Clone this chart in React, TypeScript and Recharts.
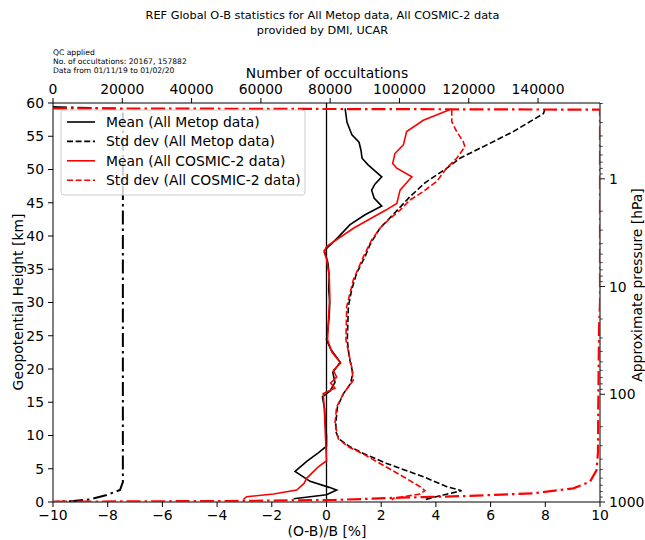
import { ScatterChart, Scatter, XAxis, YAxis, ReferenceLine } from 'recharts';

const FONT = '"DejaVu Sans", Verdana, sans-serif';

// Profiles, listed from the top of the atmosphere downwards.
// Heights are geopotential km, values are (O-B)/B in %.
const metopMeanKm = [59.2, 57.1, 55.2, 54.1, 52.9, 51.7, 50.7, 49.8, 48.9, 47.8, 46.9, 45.7, 44.5, 43.2, 41.7, 39.8, 38.2, 37.8, 36, 34, 32, 30, 28, 26, 24.4, 23, 21, 19.5, 18, 16.7, 15.8, 14, 12, 10, 8.4, 7.4, 6.2, 4.6, 3.1, 2.2, 1.8, 1.1, 0.8, 0.5];
const metopMeanPct = [0.68, 0.75, 0.93, 1.19, 1.26, 1.3, 1.52, 1.77, 2.02, 1.77, 1.65, 1.74, 2.02, 1.41, 0.86, 0.42, 0.02, -0.08, 0.05, 0.1, 0.08, 0.12, 0.1, 0.05, 0, 0.15, 0.5, 0.23, 0.31, 0.13, -0.15, -0.07, -0.05, 0, 0, -0.3, -0.7, -1.15, -0.6, 0.1, 0.37, 0, -0.6, -1.2];

const metopStdKm = [59.1, 58.4, 55.7, 53.7, 51.7, 50.2, 48.0, 45.9, 43.5, 41.2, 38.8, 36.9, 34.4, 31.9, 29.4, 24.4, 21.8, 19.4, 17.8, 16.3, 14.3, 11.8, 10.5, 9.5, 8.3, 7.3, 5.8, 3.8, 2.3, 1.7, 1.05, 0.3];
const metopStdPct = [7.99, 7.93, 6.83, 5.86, 4.88, 4.4, 3.6, 3.05, 2.5, 1.96, 1.6, 1.41, 1.1, 0.92, 0.8, 0.76, 0.83, 0.96, 0.88, 0.62, 0.4, 0.34, 0.35, 0.45, 0.86, 1.35, 2.2, 3.54, 4.4, 4.94, 4.27, 3.54];

const cosmicMeanKm = [59, 57.4, 55.7, 53.7, 52.4, 50.9, 50.2, 48.9, 46.9, 44.9, 43.9, 41.2, 38.4, 37.6, 36.6, 34, 31, 28, 24.4, 22.5, 20.9, 19.8, 18.8, 17.9, 17.1, 16.3, 14, 11, 8, 6.2, 5.3, 4.8, 3.6, 2.8, 1.8, 1.2, 0.8, 0.4];
const cosmicMeanPct = [4.5, 3.54, 2.93, 2.81, 2.5, 2.42, 2.57, 3.12, 2.69, 2.57, 2.17, 1.0, 0, -0.09, 0, 0.1, 0.12, 0.08, 0.04, 0.2, 0.52, 0.25, 0.37, 0.15, 0.31, -0.12, -0.08, -0.05, -0.02, 0, -0.3, -0.42, -0.72, -0.82, -1.09, -1.94, -2.92, -3.04];

const cosmicStdKm = [59, 57.2, 55.7, 54.2, 53.4, 51.7, 50.2, 48.2, 46.7, 45.4, 43.9, 42.4, 41.2, 39.4, 36.9, 33.4, 29.4, 24.4, 20.3, 18.3, 16.3, 14.3, 11.8, 9.5, 8.3, 7.3, 5.8, 3.8, 2.3, 1.7, 1.2, 0.55, 0.3];
const cosmicStdPct = [4.58, 4.58, 4.76, 5.0, 5.06, 4.76, 4.39, 4.03, 3.54, 3.05, 2.69, 2.26, 1.96, 1.65, 1.35, 0.98, 0.74, 0.71, 0.92, 0.98, 0.62, 0.37, 0.31, 0.43, 0.8, 1.3, 1.96, 2.81, 3.42, 3.6, 3.42, 2.44, 2.4];

// Number of occultations per level (top axis)
const metopCountKm = [59.4, 59.1, 3.0, 1.8, 1.05, 0.4, 0.15, 0.05];
const metopCount = [0, 20167, 20167, 19340, 15500, 10680, 5860, 1070];
const cosmicCountKm = [59.2, 59.0, 30, 26, 15, 7.5, 4.8, 3.05, 2.06, 1.3, 0.9, 0.65, 0.3, 0.15, 0.05];
const cosmicCount = [0, 157882, 157882, 157600, 157400, 157300, 156900, 155000, 150200, 138600, 119400, 100150, 80900, 51000, 0];

const COUNT_MAX = 157882;
const pctTicks = [-10, -8, -6, -4, -2, 0, 2, 4, 6, 8, 10];
const kmTicks = [0, 5, 10, 15, 20, 25, 30, 35, 40, 45, 50, 55, 60];
const countTicks = [0, 20000, 40000, 60000, 80000, 100000, 120000, 140000];

// right axis: approximate pressure, one decade per ~16.2 km
const KM_PER_DECADE = 16.2;
const pressureLabels = [1, 10, 100, 1000];
const pressureTicks = [0.2, 0.3, 0.4, 0.5, 0.6, 0.7, 0.8, 0.9, 1, 2, 3, 4, 5, 6, 7, 8, 9, 10, 20, 30, 40, 50, 60, 70, 80, 90, 100, 200, 300, 400, 500, 600, 700, 800, 900, 1000];
const kmOfPressure = (p: number) => KM_PER_DECADE * Math.log10(1000 / p);

const legendNames = ['Mean (All Metop data)', 'Std dev (All Metop data)', 'Mean (All COSMIC-2 data)', 'Std dev (All COSMIC-2 data)'];
const legendColors = ['#000000', '#000000', '#ff0000', '#ff0000'];
const legendDash = [undefined, '6 2.6', undefined, '6 2.6'];

const toPoints = (xs: number[], ks: number[]) => xs.map((x, i) => ({ x, y: ks[i] }));

const minus = (v: number) => (v < 0 ? `\u2212${-v}` : `${v}`);

function PressureTick(props: any) {
  const { x, y, payload } = props;
  const p = 1000 / Math.pow(10, payload.value / KM_PER_DECADE);
  const major = pressureLabels.find((l) => Math.abs(l - p) / l < 0.01);
  const len = major !== undefined ? 5 : 2.8;
  return (
    <g>
      <line x1={x} x2={x + len} y1={y} y2={y} stroke="#000" strokeWidth={major !== undefined ? 0.9 : 0.7} />
      {major !== undefined && (
        <text x={x + len + 4} y={y} dy="0.36em" fill="#000" fontSize={13.9} fontFamily={FONT}>
          {major}
        </text>
      )}
    </g>
  );
}

const noDot = () => <g />;

export default function App() {
  const tickStyle = { fill: '#000', fontSize: 13.9, fontFamily: FONT };
  const profileWidth = 1.6;
  const countDash = '14 4 2.5 4';

  return (
    <div style={{ position: 'absolute', left: 0, top: 0, width: 645, height: 540, background: '#fff' }}>
      <ScatterChart width={645} height={540} margin={{ top: 73, right: 15, bottom: 8, left: 23 }}>
        <XAxis
          xAxisId="bottom"
          dataKey="x"
          type="number"
          domain={[-10, 10]}
          ticks={pctTicks}
          interval={0}
          tickFormatter={minus}
          orientation="bottom"
          height={30}
          stroke="#000"
          tick={tickStyle}
          tickSize={5}
          tickMargin={3}
          allowDataOverflow
        />
        <XAxis
          xAxisId="top"
          dataKey="x"
          type="number"
          domain={[0, COUNT_MAX]}
          ticks={countTicks}
          interval={0}
          orientation="top"
          height={30}
          stroke="#000"
          tick={tickStyle}
          tickSize={5}
          tickMargin={4}
          allowDataOverflow
        />
        <YAxis
          yAxisId="h"
          dataKey="y"
          type="number"
          domain={[0, 60]}
          ticks={kmTicks}
          interval={0}
          width={30}
          stroke="#000"
          tick={tickStyle}
          tickSize={5}
          tickMargin={4}
          allowDataOverflow
        />
        <YAxis
          yAxisId="p"
          orientation="right"
          type="number"
          domain={[0, 60]}
          ticks={pressureTicks.map(kmOfPressure)}
          interval={0}
          width={30}
          stroke="#000"
          tickLine={false}
          tickSize={0}
          tickMargin={0}
          tick={<PressureTick />}
          allowDataOverflow
        />
        <ReferenceLine xAxisId="bottom" yAxisId="h" x={0} stroke="#000" strokeWidth={1.3} />
        <Scatter
          xAxisId="bottom"
          yAxisId="h"
          data={toPoints(metopMeanPct, metopMeanKm)}
          line={{ stroke: '#000', strokeWidth: profileWidth }}
          lineType="joint"
          shape={noDot}
          isAnimationActive={false}
        />
        <Scatter
          xAxisId="bottom"
          yAxisId="h"
          data={toPoints(metopStdPct, metopStdKm)}
          line={{ stroke: '#000', strokeWidth: profileWidth, strokeDasharray: '6 2.6' }}
          lineType="joint"
          shape={noDot}
          isAnimationActive={false}
        />
        <Scatter
          xAxisId="bottom"
          yAxisId="h"
          data={toPoints(cosmicMeanPct, cosmicMeanKm)}
          line={{ stroke: '#ff0000', strokeWidth: profileWidth }}
          lineType="joint"
          shape={noDot}
          isAnimationActive={false}
        />
        <Scatter
          xAxisId="bottom"
          yAxisId="h"
          data={toPoints(cosmicStdPct, cosmicStdKm)}
          line={{ stroke: '#ff0000', strokeWidth: profileWidth, strokeDasharray: '6 2.6' }}
          lineType="joint"
          shape={noDot}
          isAnimationActive={false}
        />
        <Scatter
          xAxisId="top"
          yAxisId="h"
          data={toPoints(metopCount, metopCountKm)}
          line={{ stroke: '#000', strokeWidth: 2, strokeDasharray: countDash }}
          lineType="joint"
          shape={noDot}
          isAnimationActive={false}
        />
        <Scatter
          xAxisId="top"
          yAxisId="h"
          data={toPoints(cosmicCount, cosmicCountKm)}
          line={{ stroke: '#ff0000', strokeWidth: 2.2, strokeDasharray: countDash }}
          lineType="joint"
          shape={noDot}
          isAnimationActive={false}
        />
      </ScatterChart>

      <svg
        width={645}
        height={540}
        style={{ position: 'absolute', left: 0, top: 0, pointerEvents: 'none' }}
        fontFamily={FONT}
      >
        <text x={322.5} y={15} textAnchor="middle" dominantBaseline="central" fontSize={11.3}>
          REF Global O-B statistics for All Metop data, All COSMIC-2 data
        </text>
        <text x={322.5} y={30} textAnchor="middle" dominantBaseline="central" fontSize={11.3}>
          provided by DMI, UCAR
        </text>
        <text x={53} y={52} dominantBaseline="central" fontSize={7.6}>QC applied</text>
        <text x={53} y={61} dominantBaseline="central" fontSize={7.6}>No. of occultations: 20167, 157882</text>
        <text x={53} y={70} dominantBaseline="central" fontSize={7.6}>Data from 01/11/19 to 01/02/20</text>
        <text x={327} y={73} textAnchor="middle" dominantBaseline="central" fontSize={13.9}>
          Number of occultations
        </text>
        <text x={327} y={531} textAnchor="middle" dominantBaseline="central" fontSize={13.9}>
          (O-B)/B [%]
        </text>
        <text
          x={18}
          y={302}
          textAnchor="middle"
          dominantBaseline="central"
          fontSize={13.9}
          transform="rotate(-90 18 302)"
        >
          Geopotential Height [km]
        </text>
        <text
          x={637}
          y={285}
          textAnchor="middle"
          dominantBaseline="central"
          fontSize={13.9}
          transform="rotate(-90 637 285)"
        >
          Approximate pressure [hPa]
        </text>

        <rect x={61} y={110} width={244} height={85} rx={3} fill="#fff" fillOpacity={0.8} stroke="#cccccc" strokeWidth={1} />
        {legendNames.map((name, i) => {
          const cy = 122 + i * 19.4;
          return (
            <g key={name}>
              <line
                x1={67}
                x2={95}
                y1={cy}
                y2={cy}
                stroke={legendColors[i]}
                strokeWidth={1.6}
                strokeDasharray={legendDash[i]}
              />
              <text x={106} y={cy} dominantBaseline="central" fontSize={13.9}>
                {name}
              </text>
            </g>
          );
        })}
      </svg>
    </div>
  );
}
